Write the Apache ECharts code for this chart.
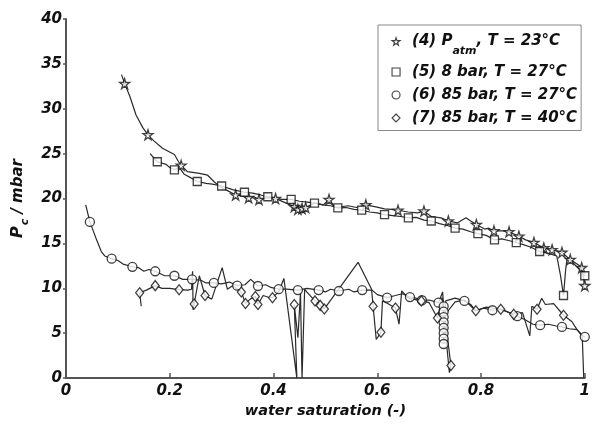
<!DOCTYPE html>
<html>
<head>
<meta charset="utf-8">
<script src="https://cdn.jsdelivr.net/npm/echarts@6/dist/echarts.min.js"></script>
<style>
html,body{margin:0;padding:0;background:#fff;}
#chart{width:593px;height:424px;}
</style>
</head>
<body>
<div id="chart"></div>
<script>
// ---- data ----
const legendNames = ['(4) Patm, T = 23°C', '(5) 8 bar, T = 27°C', '(6) 85 bar, T = 27°C', '(7) 85 bar, T = 40°C'];
const xAxisTitle = 'water saturation (-)';

// (4) Patm, 23°C - stars
const s4Line = [[0.107,33.8],[0.113,32.8],[0.123,31.4],[0.135,29.3],[0.148,27.9],[0.158,27.1],[0.170,26.4],[0.186,25.6],[0.196,25.3],[0.209,24.9],[0.217,24.1],[0.222,23.7],[0.234,23.0],[0.257,22.8],[0.273,22.6],[0.285,21.9],[0.295,21.4],[0.314,20.8],[0.327,20.4],[0.340,20.3],[0.352,20.1],[0.362,20.2],[0.372,19.9],[0.388,20.1],[0.404,20.0],[0.420,19.6],[0.440,19.1],[0.447,18.8],[0.455,18.9],[0.462,19.0],[0.480,19.5],[0.496,19.3],[0.507,19.9],[0.519,19.0],[0.544,19.2],[0.560,19.0],[0.578,19.3],[0.595,19.1],[0.614,18.85],[0.627,18.8],[0.640,18.7],[0.659,18.5],[0.678,18.4],[0.690,18.6],[0.704,18.0],[0.723,17.85],[0.737,17.5],[0.755,17.3],[0.771,17.85],[0.780,17.5],[0.791,17.1],[0.807,16.6],[0.815,16.7],[0.825,16.4],[0.841,16.4],[0.854,16.3],[0.873,15.8],[0.886,15.4],[0.902,15.1],[0.921,14.5],[0.937,14.3],[0.956,14.0],[0.972,13.2],[0.988,12.6],[0.994,12.3],[1.0,10.3]];
const s4Marks = [[0.113,32.8],[0.158,27.1],[0.222,23.7],[0.327,20.4],[0.352,20.1],[0.372,19.9],[0.404,20.0],[0.440,19.1],[0.447,18.8],[0.455,18.9],[0.462,19.0],[0.507,19.9],[0.578,19.3],[0.640,18.7],[0.690,18.6],[0.737,17.5],[0.791,17.1],[0.825,16.4],[0.854,16.3],[0.873,15.8],[0.902,15.1],[0.921,14.5],[0.937,14.3],[0.956,14.0],[0.972,13.2],[0.994,12.3],[1.0,10.3]];

// (5) 8 bar, 27°C - squares
const s5Line = [[0.162,25.0],[0.176,24.1],[0.193,23.8],[0.199,23.5],[0.209,23.2],[0.218,23.5],[0.228,22.7],[0.241,22.3],[0.253,21.9],[0.270,21.7],[0.282,21.6],[0.300,21.4],[0.321,21.0],[0.344,20.7],[0.360,20.6],[0.375,20.4],[0.389,20.2],[0.400,20.1],[0.415,19.9],[0.434,19.9],[0.450,19.7],[0.465,19.6],[0.479,19.5],[0.495,19.3],[0.510,19.2],[0.524,18.96],[0.540,19.0],[0.555,18.8],[0.570,18.7],[0.585,18.5],[0.600,18.4],[0.614,18.2],[0.630,18.1],[0.645,18.0],[0.660,17.85],[0.675,17.9],[0.690,17.6],[0.704,17.5],[0.720,17.2],[0.735,17.0],[0.750,16.7],[0.765,16.6],[0.780,16.3],[0.794,16.1],[0.810,15.9],[0.826,15.4],[0.840,15.5],[0.855,15.3],[0.868,15.1],[0.880,14.9],[0.895,14.6],[0.913,14.1],[0.930,13.9],[0.946,13.6],[0.953,11.5],[0.959,9.2],[0.963,12.0],[0.966,13.4],[0.975,13.0],[0.988,12.2],[1.0,11.4]];
const s5Marks = [[0.176,24.1],[0.209,23.2],[0.253,21.9],[0.300,21.4],[0.344,20.7],[0.389,20.2],[0.434,19.9],[0.479,19.5],[0.524,18.96],[0.570,18.7],[0.614,18.2],[0.660,17.85],[0.704,17.5],[0.750,16.7],[0.794,16.1],[0.826,15.4],[0.868,15.1],[0.913,14.1],[0.959,9.2],[1.0,11.4]];

// (6) 85 bar, 27°C - circles
const s6Line = [[0.038,19.3],[0.046,17.4],[0.059,15.4],[0.068,14.1],[0.075,13.6],[0.088,13.3],[0.100,13.1],[0.110,12.7],[0.128,12.4],[0.140,12.3],[0.150,11.9],[0.160,12.1],[0.172,11.9],[0.190,11.4],[0.209,11.4],[0.225,11.0],[0.243,11.0],[0.260,10.9],[0.270,10.6],[0.285,10.6],[0.300,10.5],[0.315,10.7],[0.330,10.3],[0.345,10.4],[0.356,11.0],[0.370,10.26],[0.385,10.4],[0.395,10.1],[0.410,9.9],[0.425,9.9],[0.447,9.8],[0.465,10.0],[0.487,9.8],[0.500,9.6],[0.510,9.9],[0.526,9.7],[0.545,9.9],[0.555,9.6],[0.571,9.8],[0.590,9.8],[0.600,9.3],[0.619,8.96],[0.635,9.2],[0.648,9.4],[0.663,9.03],[0.675,8.9],[0.686,8.67],[0.700,8.7],[0.718,8.4],[0.726,9.6],[0.728,8.0],[0.728,7.4],[0.728,6.8],[0.728,6.2],[0.728,5.6],[0.728,5.0],[0.728,4.4],[0.728,3.8],[0.732,8.6],[0.750,8.9],[0.768,8.6],[0.780,8.2],[0.790,7.5],[0.805,7.8],[0.822,7.56],[0.838,7.7],[0.850,7.4],[0.870,6.9],[0.885,6.5],[0.900,6.0],[0.914,5.9],[0.930,6.0],[0.945,5.8],[0.956,5.7],[0.970,5.5],[0.985,5.4],[0.993,4.8],[1.0,4.6]];
const s6Marks = [[0.046,17.4],[0.088,13.3],[0.128,12.4],[0.172,11.9],[0.209,11.4],[0.243,11.0],[0.285,10.6],[0.330,10.3],[0.370,10.26],[0.410,9.9],[0.447,9.8],[0.487,9.8],[0.526,9.7],[0.571,9.8],[0.619,8.96],[0.663,9.03],[0.686,8.67],[0.718,8.4],[0.728,8.0],[0.728,7.4],[0.728,6.8],[0.728,6.2],[0.728,5.6],[0.728,5.0],[0.728,4.4],[0.728,3.8],[0.768,8.6],[0.822,7.56],[0.870,6.9],[0.914,5.9],[0.956,5.7],[1.0,4.6]];

// (7) 85 bar, 40°C - diamonds
const s7Line = [[0.145,8.0],[0.142,9.5],[0.155,9.8],[0.172,10.3],[0.185,10.0],[0.200,10.0],[0.218,9.85],[0.235,9.8],[0.242,9.9],[0.244,11.9],[0.245,7.6],[0.247,8.26],[0.257,11.4],[0.268,9.2],[0.281,8.8],[0.301,12.3],[0.311,9.9],[0.321,10.3],[0.338,9.6],[0.346,8.3],[0.355,8.8],[0.365,9.1],[0.370,8.2],[0.380,9.2],[0.390,9.0],[0.398,8.96],[0.410,9.6],[0.420,11.1],[0.445,0],[0.440,8.2],[0.447,4.5],[0.452,9.5],[0.455,0],[0.460,9.9],[0.464,9.6],[0.480,8.6],[0.490,8.1],[0.498,7.7],[0.563,12.9],[0.589,9.9],[0.592,8.0],[0.598,4.3],[0.607,5.1],[0.610,8.6],[0.620,8.3],[0.635,7.8],[0.642,6.0],[0.647,9.7],[0.660,8.9],[0.685,8.6],[0.700,8.4],[0.716,6.7],[0.725,9.0],[0.739,0.6],[0.742,1.4],[0.730,7.0],[0.750,8.5],[0.768,8.7],[0.790,7.5],[0.810,7.9],[0.838,7.67],[0.863,7.1],[0.880,7.3],[0.894,4.7],[0.898,8.0],[0.908,7.67],[0.917,8.9],[0.924,8.2],[0.940,8.3],[0.959,7.0],[0.975,6.3],[0.985,5.4],[0.995,4.8],[0.998,0]];
const s7Marks = [[0.142,9.5],[0.172,10.3],[0.218,9.85],[0.247,8.26],[0.268,9.2],[0.338,9.6],[0.346,8.3],[0.365,9.1],[0.370,8.2],[0.398,8.96],[0.440,8.2],[0.480,8.6],[0.490,8.1],[0.498,7.7],[0.592,8.0],[0.607,5.1],[0.635,7.8],[0.685,8.6],[0.716,6.7],[0.742,1.4],[0.790,7.5],[0.838,7.67],[0.863,7.1],[0.908,7.67],[0.959,7.0]];

// ---- chart ----
const FONT = 'DejaVu Sans';
const INK = '#111';
const LINE = '#2a2a2a';
const starPath = 'path://M50,0 L61,35 L98,35 L68,57 L79,91 L50,70 L21,91 L32,57 L2,35 L39,35 Z';

const chart = echarts.init(document.getElementById('chart'), null, {renderer: 'canvas'});

function lineSeries(data) {
  return {type: 'line', data: data, showSymbol: false, symbol: 'none', silent: true,
    lineStyle: {color: LINE, width: 1.2}, clip: false, z: 2, animation: false};
}
function markSeries(name, data, symbol, size) {
  return {type: 'scatter', name: name, data: data, symbol: symbol, symbolSize: size, clip: false,
    itemStyle: {color: '#fff', borderColor: INK, borderWidth: 1.3}, z: 3, animation: false};
}

const labelStyle = {fontFamily: FONT, fontWeight: 'bold', fontStyle: 'italic', fontSize: 15, color: INK};

chart.setOption({
  animation: false,
  backgroundColor: '#fff',
  grid: {left: 66, right: 4, top: 19, bottom: 45, containLabel: false},
  xAxis: {
    type: 'value', min: 0, max: 1, interval: 0.2,
    name: xAxisTitle, nameLocation: 'middle', nameGap: 23,
    nameTextStyle: Object.assign({}, labelStyle, {fontSize: 14.5}),
    axisLine: {show: true, lineStyle: {color: '#555', width: 2}},
    axisTick: {show: true, inside: true, length: 5, lineStyle: {color: '#555', width: 1.5}},
    axisLabel: Object.assign({}, labelStyle, {margin: 6}),
    splitLine: {show: false}
  },
  yAxis: {
    type: 'value', min: 0, max: 40, interval: 5,
    name: '{p|P}{c|c}{m| / mbar}', nameLocation: 'middle', nameGap: 31, nameRotate: 90,
    nameTextStyle: {
      rich: {
        p: Object.assign({}, labelStyle, {fontSize: 16, lineHeight: 18}),
        c: Object.assign({}, labelStyle, {fontSize: 11, padding: [14, 0, 0, 1]}),
        m: Object.assign({}, labelStyle, {fontSize: 15, lineHeight: 18})
      }
    },
    axisLine: {show: true, lineStyle: {color: '#555', width: 2}},
    axisTick: {show: true, inside: false, length: 3, lineStyle: {color: '#555', width: 1.5}},
    axisLabel: Object.assign({}, labelStyle, {margin: 4}),
    splitLine: {show: false}
  },
  legend: {
    orient: 'vertical', left: 378, top: 25,
    padding: [9, 4, 5, 13.5],
    itemWidth: 8, itemHeight: 8, itemGap: 8,
    borderColor: '#888', borderWidth: 1, backgroundColor: '#fff',
    selectedMode: false,
    itemStyle: {color: '#fff', borderColor: INK, borderWidth: 1.1},
    data: [
      {name: legendNames[0], icon: starPath},
      {name: legendNames[1], icon: 'rect'},
      {name: legendNames[2], icon: 'circle'},
      {name: legendNames[3], icon: 'diamond'}
    ],
    formatter: function (name) {
      if (name === legendNames[0]) {
        return '{g|}{m|(4) P}{s|atm}{m|, T = 23°C}';
      }
      return '{g|}{m|' + name + '}';
    },
    textStyle: {
      rich: {
        g: {width: 7},
        m: Object.assign({}, labelStyle, {lineHeight: 18}),
        s: Object.assign({}, labelStyle, {fontSize: 11, padding: [19, 0, 0, 0]})
      }
    }
  },
  series: [
    lineSeries(s4Line), lineSeries(s5Line), lineSeries(s6Line), lineSeries(s7Line),
    markSeries(legendNames[0], s4Marks, starPath, 10),
    markSeries(legendNames[1], s5Marks, 'rect', 8),
    markSeries(legendNames[2], s6Marks, 'circle', 9),
    markSeries(legendNames[3], s7Marks, 'diamond', [8, 10])
  ]
});
</script>
</body>
</html>
